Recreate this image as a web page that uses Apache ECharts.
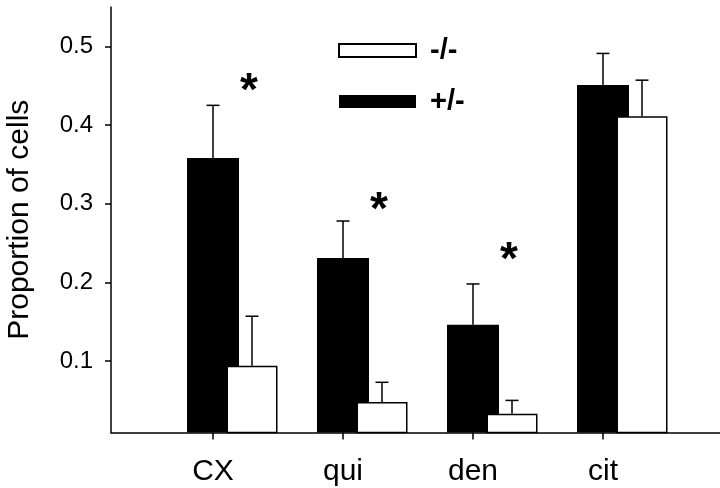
<!DOCTYPE html>
<html>
<head>
<meta charset="utf-8">
<script src="https://cdn.jsdelivr.net/npm/echarts@6/dist/echarts.min.js"></script>
<style>
html, body { margin: 0; padding: 0; background: #fff; }
#chart { width: 720px; height: 488px; }
</style>
</head>
<body>
<div id="chart"></div>
<script>
// values
var categories = ['CX', 'qui', 'den', 'cit'];
var hetMean = [0.358, 0.231, 0.146, 0.451];   // +/-
var hetUpper = [0.425, 0.278, 0.198, 0.491];
var koMean = [0.094, 0.048, 0.033, 0.411];    // -/-
var koUpper = [0.157, 0.073, 0.050, 0.457];
var starValues = [0.452, 0.300, 0.237, null];
var yTicks = [0.1, 0.2, 0.3, 0.4, 0.5];

var yMin = 0.0092;
var yMax = 0.55;
var font = 'Liberation Sans, Arial, sans-serif';

function errorBar(params, api) {
	var top = api.coord([api.value(0), api.value(2)]);
	var bottom = api.coord([api.value(0), api.value(1)]);
	var half = 6.5;
	var st = { stroke : '#000', lineWidth : 1.5 };
	return {
		type : 'group',
		children : [ {
			type : 'line',
			shape : { x1 : top[0], y1 : top[1], x2 : bottom[0], y2 : bottom[1] },
			style : st
		}, {
			type : 'line',
			shape : { x1 : top[0] - half, y1 : top[1], x2 : top[0] + half, y2 : top[1] },
			style : st
		} ]
	};
}

function star(params, api) {
	var p = api.coord([api.value(0), api.value(1)]);
	return {
		type : 'text',
		x : p[0] - 3,
		y : p[1] + 8,
		style : {
			text : '*',
			fontSize : 46,
			fontWeight : 'bold',
			fontFamily : font,
			fill : '#000',
			align : 'center',
			verticalAlign : 'middle'
		}
	};
}

var hetErrData = [], koErrData = [], starData = [];
for (var i = 0; i < categories.length; i++) {
	hetErrData.push([i, hetMean[i], hetUpper[i]]);
	koErrData.push([i, koMean[i], koUpper[i]]);
	if (starValues[i] != null) {
		starData.push([i, starValues[i]]);
	}
}

var hiddenY = function(idx) {
	return { type : 'value', gridIndex : idx, min : yMin, max : yMax, show : false };
};

var myChart = echarts.init(document.getElementById('chart'));
var option = {
	animation : false,
	backgroundColor : '#fff',
	grid : [
		{ left : 111, right : 0, top : 7, bottom : 55.5, outerBoundsMode : 'none' },
		{ left : 148, width : 520, top : 7, bottom : 55.5, outerBoundsMode : 'none' },
		{ left : 187, width : 520, top : 7, bottom : 55.5, outerBoundsMode : 'none' }
	],
	legend : {
		orient : 'vertical',
		left : 333,
		top : 31,
		itemWidth : 77,
		itemHeight : 13,
		itemGap : 22,
		icon : 'rect',
		selectedMode : false,
		data : ['-/-', '+/-'],
		textStyle : {
			fontSize : 29,
			fontWeight : 'bold',
			fontFamily : font,
			color : '#000',
			padding : [0, 0, 0, 9]
		}
	},
	xAxis : [ {
		type : 'value',
		gridIndex : 0,
		min : 0,
		max : 1,
		axisLine : { show : true, onZero : false, lineStyle : { color : '#000', width : 1.5 } },
		axisTick : { show : false },
		axisLabel : { show : false },
		splitLine : { show : false }
	}, {
		type : 'category',
		gridIndex : 1,
		data : categories,
		axisLine : { show : false },
		axisTick : { show : true, alignWithLabel : true, length : 7, lineStyle : { color : '#000', width : 1.5 } },
		axisLabel : { fontSize : 30, fontFamily : font, color : '#000', margin : 24 }
	}, {
		type : 'category',
		gridIndex : 2,
		data : categories,
		show : false
	} ],
	yAxis : [ {
		type : 'value',
		gridIndex : 0,
		min : yMin,
		max : yMax,
		name : 'Proportion of cells',
		nameLocation : 'middle',
		nameGap : 76,
		nameTextStyle : { fontSize : 30, fontFamily : font, color : '#000' },
		axisLine : { show : true, onZero : false, lineStyle : { color : '#000', width : 1.5 } },
		axisTick : { show : true, length : 6, customValues : yTicks, lineStyle : { color : '#000', width : 1.5 } },
		axisLabel : {
			customValues : yTicks,
			fontSize : 24,
			fontFamily : font,
			color : '#000',
			margin : 18,
			formatter : function(v) { return v.toFixed(1); }
		},
		splitLine : { show : false }
	}, hiddenY(1), hiddenY(2) ],
	series : [ {
		name : '+/-',
		type : 'bar',
		xAxisIndex : 1,
		yAxisIndex : 1,
		barWidth : 52,
		data : hetMean,
		itemStyle : { color : '#000' }
	}, {
		type : 'custom',
		xAxisIndex : 1,
		yAxisIndex : 1,
		z : 3,
		renderItem : errorBar,
		encode : { x : 0, y : 2 },
		data : hetErrData
	}, {
		name : '-/-',
		type : 'bar',
		xAxisIndex : 2,
		yAxisIndex : 2,
		barWidth : 51,
		data : koMean,
		itemStyle : { color : '#fff', borderColor : '#000', borderWidth : 1.5 }
	}, {
		type : 'custom',
		xAxisIndex : 2,
		yAxisIndex : 2,
		z : 3,
		renderItem : errorBar,
		encode : { x : 0, y : 2 },
		data : koErrData
	}, {
		type : 'custom',
		xAxisIndex : 2,
		yAxisIndex : 2,
		z : 4,
		renderItem : star,
		encode : { x : 0, y : 1 },
		data : starData
	} ]
};
myChart.setOption(option);
</script>
</body>
</html>
